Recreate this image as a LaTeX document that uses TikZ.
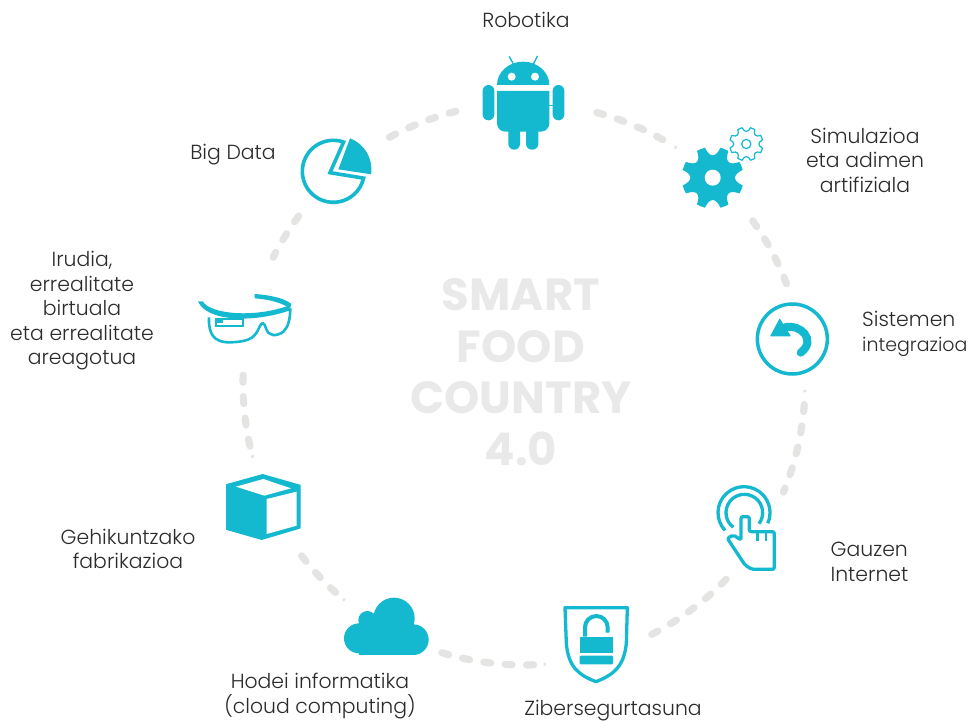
\documentclass[tikz,border=0pt]{standalone}
\usepackage{fontspec}
\usetikzlibrary{calc}
\setmainfont{Poppins}[UprightFont=* Light,BoldFont=* Bold]
\definecolor{teal1}{HTML}{14B8CF}
\definecolor{ring}{HTML}{E4E4E3}
\definecolor{ink}{HTML}{2B2B2B}
\definecolor{title}{HTML}{E9E9E9}
\newcommand{\gearoutline}[2]{%
 (22.5-8:#1) \foreach \k in {0,...,7} {
   arc[start angle=22.5-8+45*\k,end angle=22.5+8+45*\k,radius=#1]
   .. controls ({22.5+14+45*\k}:#2) and ({22.5+31+45*\k}:#2) .. ({22.5+37+45*\k}:#1)
 } -- cycle}
\tikzset{
 z/.style 2 args={shift={(#1,#2)},x=.33333pt,y=-.33333pt},
 ringarc/.style={draw=ring,line width=7.2pt,line cap=round,dash pattern=on 7pt off 14.5pt},
 sliver/.style={draw=ring,line width=3pt},
 lab/.style={font=\fontsize{20.4}{24.5}\selectfont,text=ink,align=center,inner sep=0pt},
 bigt/.style={font=\fontsize{45}{51.5}\selectfont\bfseries,text=title,align=center,inner sep=0pt},
 linet/.style={draw=teal1,line width=3.3pt}
}
\begin{document}
\begin{tikzpicture}[x=1pt,y=-1pt]
\useasboundingbox (0,0) rectangle (969,722);
\coordinate (c) at (524,384);
% ring
\foreach \a/\b in {-75/-60.2,-35.5/-20.7,4.2/22.6,44/63.1,107/87.8,142.3/131.9,181.8/167.1,216.7/206.8,241.4/256.1}{
  \draw[ringarc] ($(c)+(\a:281)$) arc[start angle=\a,end angle=\b,radius=281];
}
\foreach \a in {-57.6,1.2,85.5,129.6,164.8}{
  \draw[sliver] ($(c)+(\a:281)$) arc[start angle=\a,end angle=\a+.5,radius=281];
}
% centre
\node[bigt] (centre) at (521,372) {SMART\\FOOD\\COUNTRY\\4.0};
% android
\begin{scope}[z={440}{40}]
 \fill[teal1] (171,135) arc[start angle=180,end angle=360,x radius=78.5,y radius=70] -- cycle;
 \fill[white] (215,110) circle[x radius=12,y radius=12] (285,110) circle[x radius=12,y radius=12];
 \draw[teal1,line width=1.4pt,line cap=round] (220,72) -- (208,50) (280,72) -- (292,49);
 \fill[teal1] (171,153) -- (328,153) -- (328,250) arc[start angle=0,end angle=90,radius=25] -- (196,275) arc[start angle=90,end angle=180,radius=25] -- cycle;
 \fill[teal1,rounded corners=5.8pt] (128,135) rectangle (163,241) (338,135) rectangle (373,241);
 \fill[teal1,rounded corners=5.8pt] (205,250) rectangle (240,329) (258,250) rectangle (295,329);
 \draw[teal1,line width=.8pt] (328,196) -- (338,196);
\end{scope}
% gears
\begin{scope}[shift={(712.7,177.7)},x=1pt,y=-1pt]
 \fill[teal1] \gearoutline{31}{20};
 \fill[white] (0,0) circle[radius=8];
\end{scope}
\begin{scope}[shift={(746.3,144)},x=1pt,y=-1pt]
 \fill[white,draw=white,line width=5pt] \gearoutline{16.8}{11.5};
 \draw[teal1,line width=1.2pt,line join=round] \gearoutline{16.8}{11.5};
 \draw[teal1,line width=1.2pt] (0,0) circle[radius=4.6];
\end{scope}
% undo
\begin{scope}[z={680}{290}]
 \draw[linet,line width=3.5pt] (337,147) circle[radius=105];
 \fill[teal1,rounded corners=.6pt] (270,139) -- (299,85) -- (333,139) -- cycle;
 \draw[teal1,line width=8pt,line cap=round] (315,112) .. controls (360,100) and (412,150) .. (362,188);
\end{scope}
% hand
\begin{scope}[z={680}{290}]
 \draw[linet] (192,668) ++(137:78) arc[start angle=137,end angle=384,radius=78];
 \draw[linet] (193,668) ++(127:55) arc[start angle=127,end angle=397,radius=55];
 \draw[linet,draw=white,line width=7pt,fill=white,line join=round] (183,690) -- (183,750) -- (160,735) -- (142,745) -- (195,825) -- (215,838) -- (265,838) -- (283,820) -- (283,725) -- (208,725) -- (208,690) -- (195,678) -- cycle;
 \draw[linet,line join=round,rounded corners=2pt] (183,690) -- (183,680) -- (208,680) -- (208,725) -- (283,725) -- (283,838) -- (215,838) -- (195,825) -- (142,745) -- (160,735) -- (183,750) -- cycle;
 \draw[linet,line width=2.6pt] (232,725) -- (232,753) (258,725) -- (258,753);
\end{scope}
% shield
\begin{scope}[z={430}{570}]
 \draw[linet,line join=round] (405,113) -- (592,113) -- (589,220) .. controls (582,290) and (550,315) .. (498,335) .. controls (445,315) and (415,290) .. (409,220) -- cycle;
 \fill[teal1] (449,200) rectangle (549,250);
 \fill[teal1,rounded corners=1pt] (449,257) rectangle (549,283);
 \draw[teal1,line width=4pt] (465,200) -- (465,172) arc[start angle=180,end angle=360,radius=34] -- (533,188);
\end{scope}
% cloud and cube
\begin{scope}[z={210}{460}]
 \fill[teal1] (447,535) circle[radius=45] (472,480) circle[radius=27] (552,475) circle[radius=62] (610,539) circle[radius=46];
 \fill[teal1] (447,500) rectangle (610,585);
 \fill[teal1] (447,470) rectangle (600,540);
 \fill[teal1,line join=round,draw=teal1,line width=1.2pt] (50,74) -- (158,44) -- (270,76) -- (270,204) -- (155,238) -- (50,208) -- cycle;
 \fill[white] (78,80) -- (160,57) -- (243,85) -- (163,107) -- cycle;
 \fill[white] (170,117) -- (260,95) -- (260,197) -- (170,222) -- cycle;
\end{scope}
% glasses and pie
\begin{scope}[z={180}{120}]
 \fill[teal1] (54,544) -- (68,544) .. controls (90,582) and (220,595) .. (326,557) -- (333,570) .. controls (220,610) and (80,605) .. cycle;
 \fill[teal1] (224,522) .. controls (270,525) and (315,535) .. (334,552) -- (330,566) .. controls (310,550) and (270,538) .. (224,535) -- cycle;
 \draw[teal1,line width=2.6pt,line join=round] (87,592) .. controls (85,640) and (100,668) .. (150,667) .. controls (215,665) and (225,650) .. (238,622) .. controls (245,605) and (252,605) .. (258,625) .. controls (265,650) and (290,650) .. (310,635) .. controls (325,620) and (330,600) .. (331,565);
 \draw[teal1,line width=2.2pt] (108,597) rectangle (190,618);
 \fill[teal1] (112,597) rectangle (130,610);
 \draw[linet,line width=3.6pt,line join=miter] (460,154) ++(-70.7:93) arc[start angle=-70.7,end angle=-347.3,radius=93] -- (450,158) -- cycle;
 \fill[teal1] (475,148) -- (510,55) arc[start angle=-69.4,end angle=8.8,radius=99] -- cycle;
\end{scope}
% labels
\node[lab] (l1) at (526,20) {Robotika};
\node[lab] (l2) at (865,160) {Simulazioa\\eta adimen\\ artifiziala};
\node[lab,align=left,anchor=west] (l3) at (862,334) {Sistemen\\{\fontsize{19}{24.5}\selectfont integrazioa}};
\node[lab,align=left] (l4) at (869.5,562) {Gauzen\\Internet};
\node[lab] (l5) at (613,711) {Zibersegurtasuna};
\node[lab] (l6) at (320,696) {Hodei informatika\\(cloud computing)};
\node[lab] (l7) at (128,549) {Gehikuntzako\\fabrikazioa};
\node[lab] (l8) at (82,311) {Irudia,\\errealitate\\birtuala\\eta errealitate\\areagotua};
\node[lab] (l9) at (233,155) {Big Data};
\end{tikzpicture}
\end{document}
